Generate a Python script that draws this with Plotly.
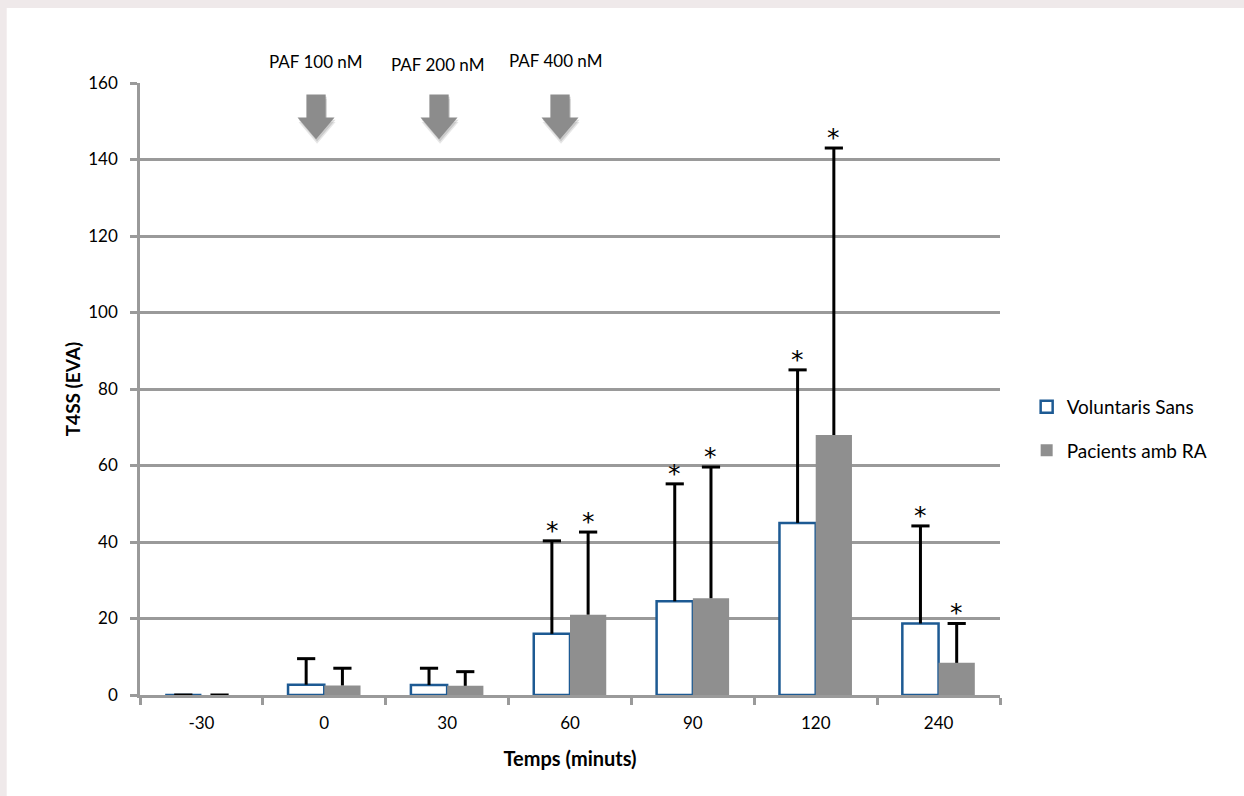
import plotly.graph_objects as go

# Time points (minutes) and group means / SDs of T4SS (EVA)
categories = ["-30", "0", "30", "60", "90", "120", "240"]
voluntaris = [0, 2.7, 2.6, 16, 24.5, 45, 18.7]
voluntaris_sd = [0, 6.8, 4.4, 24.3, 30.7, 40, 25.5]
pacients = [0, 2.5, 2.4, 21, 25.3, 68, 8.4]
pacients_sd = [0, 4.5, 3.7, 21.6, 34.3, 75, 10.3]
voluntaris_sig = [False, False, False, True, True, True, True]
pacients_sig = [False, False, False, True, True, True, True]
y_ticks = [0, 20, 40, 60, 80, 100, 120, 140, 160]

# PAF doses with arrow position (paper x) for the stimulus markers
paf_labels = ["PAF 100 nM", "PAF 200 nM", "PAF 400 nM"]
paf_label_x = [0.2045, 0.3465, 0.4835]
paf_label_shift = [9, 6, 10]
paf_arrow_x = [0.2047, 0.3477, 0.4884]

FONT = "Lato"
GRID = "#9a9a9a"

fig = go.Figure()


def add_series(name, vals, sds, group, marker, legendgroup):
    fig.add_trace(go.Bar(
        name=name, x=categories, y=vals, marker=marker,
        offsetgroup=group, legendgroup=legendgroup,
    ))
    # upper SD whisker: cap marker at mean+SD, line drawn down to the mean
    tops = [v + s for v, s in zip(vals, sds)]
    fig.add_trace(go.Scatter(
        x=categories, y=tops, mode="markers", offsetgroup=group,
        marker=dict(symbol="line-ew", size=13, color="black",
                    line=dict(color="black", width=3)),
        error_y=dict(type="data", symmetric=False, array=[0] * len(sds),
                     arrayminus=sds, color="black", thickness=3, width=0),
        showlegend=False, hoverinfo="skip", legendgroup=legendgroup,
    ))


add_series("Voluntaris Sans", voluntaris, voluntaris_sd, "vol",
           dict(color="white", line=dict(color="#1d5a93", width=2.5)), "a")
add_series("Pacients amb RA", pacients, pacients_sd, "pat",
           dict(color="#8f8f8f", line=dict(width=0)), "b")

# Significance asterisks above the error bars (x given as category index)
annotations = []
for vals, sds, sig, shift in ((voluntaris, voluntaris_sd, voluntaris_sig, -18),
                              (pacients, pacients_sd, pacients_sig, 18)):
    for i, (v, s, flag) in enumerate(zip(vals, sds, sig)):
        if flag:
            annotations.append(dict(
                x=i, y=v + s, xref="x", yref="y", text="*", showarrow=False,
                xshift=shift, xanchor="center", yanchor="bottom", yshift=-6,
                font=dict(family="DejaVu Sans", size=25, color="black")))

# Dose labels above the plot
for lab, lx, ys in zip(paf_labels, paf_label_x, paf_label_shift):
    annotations.append(dict(
        x=lx, y=1.0, xref="paper", yref="paper", text=lab, showarrow=False,
        xanchor="center", yanchor="bottom", yshift=ys,
        font=dict(family=FONT, size=17, color="black")))

shapes = [
    # page frame
    dict(type="rect", xref="paper", yref="paper", x0=-0.155, x1=1.3, y0=-0.2, y1=1.1225,
         fillcolor="white", line=dict(width=0), layer="below"),
]


def arrow_path(cx, dx=0.0, dy=0.0):
    sw, hw = 0.0112, 0.0215  # half widths of shaft and head (paper units)
    top, neck, tip = 157.0 - dy, 151.0 - dy, 145.3 - dy
    cx = cx + dx
    return (f"M {cx - sw},{top} L {cx + sw},{top} L {cx + sw},{neck} "
            f"L {cx + hw},{neck} L {cx},{tip} L {cx - hw},{neck} "
            f"L {cx - sw},{neck} Z")


for ax in paf_arrow_x:
    for op, d in ((0.18, 1.2), (0.25, 0.6)):
        shapes.append(dict(type="path", xref="paper", yref="y",
                           path=arrow_path(ax, 0.0012, d),
                           fillcolor="#777777", opacity=op, line=dict(width=0)))
    shapes.append(dict(type="path", xref="paper", yref="y", path=arrow_path(ax),
                       fillcolor="#8c8c8c", line=dict(width=0)))

fig.update_layout(
    width=1244, height=796,
    margin=dict(l=140, r=244, t=83, b=101),
    paper_bgcolor="#efe9ea", plot_bgcolor="white",
    barmode="group", bargap=0.41, bargroupgap=0,
    scattermode="group", scattergap=0.41,
    font=dict(family=FONT, size=17, color="black"),
    showlegend=True,
    legend=dict(x=1.031, y=0.435, xanchor="left", yanchor="middle",
                font=dict(family=FONT, size=19), tracegroupgap=16,
                bgcolor="rgba(0,0,0,0)"),
    annotations=annotations,
    shapes=shapes,
)
fig.update_xaxes(
    type="category", range=[-0.5, len(categories) - 0.5], autorange=False,
    tickson="boundaries", ticks="outside", ticklen=7,
    tickwidth=2.5, tickcolor=GRID, showline=True, linecolor=GRID, linewidth=2.5,
    showgrid=False, tickfont=dict(family=FONT, size=17), ticklabelstandoff=11,
    title=dict(text="<b>Temps (minuts)</b>", font=dict(family=FONT, size=20), standoff=20),
)
fig.update_yaxes(
    range=[0, 160], autorange=False, tickvals=y_ticks, ticks="outside", ticklen=7,
    tickwidth=2.5, tickcolor=GRID, showline=True, linecolor=GRID, linewidth=2.5,
    showgrid=True, gridcolor=GRID, gridwidth=2.5, zeroline=False,
    tickfont=dict(family=FONT, size=17), ticklabelstandoff=9,
    title=dict(text="<b>T4SS (EVA)</b>", font=dict(family=FONT, size=19), standoff=3),
)

fig.write_html("out.html")
